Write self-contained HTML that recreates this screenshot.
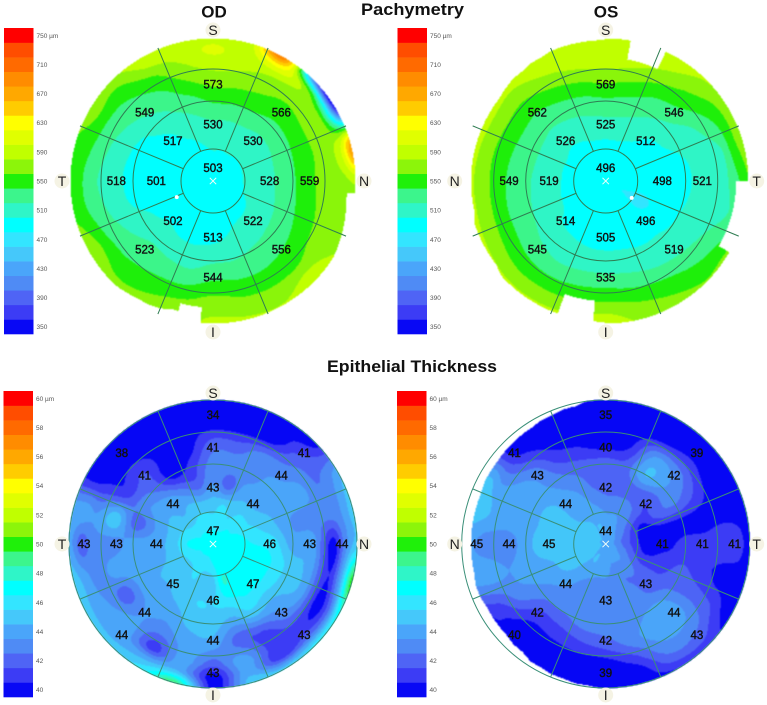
<!DOCTYPE html>
<html lang="en">
<head>
<meta charset="utf-8">
<title>Pachymetry and Epithelial Thickness Maps</title>
<style>
html,body{margin:0;padding:0;background:#fff;width:767px;height:705px;overflow:hidden}
svg{display:block;font-family:"Liberation Sans",Arial,sans-serif}
.title{font-weight:700;font-size:17px;fill:#111}
.tick{font-size:6.5px;fill:#555}
.val{font-size:11.5px;fill:#111;stroke:#111;stroke-width:.4;text-anchor:middle}
.dir{font-size:14px;fill:#222;text-anchor:middle}
</style>
</head>
<body>
<svg id="chart" width="767" height="705" viewBox="0 0 767 705" xmlns="http://www.w3.org/2000/svg">
  <text class="title" x="361" y="15" textLength="103" lengthAdjust="spacingAndGlyphs">Pachymetry</text>
  <text class="title" x="214" y="17.5" text-anchor="middle">OD</text>
  <text class="title" x="606" y="17.5" text-anchor="middle">OS</text>
  <text class="title" x="327" y="372" textLength="170" lengthAdjust="spacingAndGlyphs">Epithelial Thickness</text>
</svg>
<script>
/* ---------- shared scale data ---------- */
const pachyTicks = [750,710,670,630,590,550,510,470,430,390,350];
const epiTicks = [60,58,56,54,52,50,48,46,44,42,40];
const bandColors = ['#0808f5','#3c3cf5','#4f64f5','#4f8bf5','#4aa5fa','#45c8fa','#33e5ff','#00ffff','#2ff5c8','#3cf58c','#1ff00a','#8cf50a','#c0ff00','#e0ff00','#ffff00','#ffcc00','#ffa800','#ff8c00','#ff6a00','#ff4d00','#ff0000'];
/* sampling axes of the thickness fields */
const sampleAnglesDeg = [0,15,30,45,60,75,90,105,120,135,150,165,180,195,210,225,240,255,270,285,300,315,330,345];
const sampleRadiiMm = [0,0.625,1.25,1.875,2.5,3.125,3.75,4.125,4.5];
const ringRadiiMm = [1,2.5,3.5];
const spokeAnglesDeg = [22.5,67.5,112.5,157.5,202.5,247.5,292.5,337.5];

/* ---------- pachymetry OD ---------- */
const pachyOdField = [
[494,496,505,519,542,567,590,604,590],
[494,496,504,518,541,565,585,590,588],
[494,496,505,518,540,560,580,625,700],
[494,496,503,515,535,552,572,560,400],
[494,496,504,516,535,555,578,500,350],
[494,496,505,518,537,557,572,600,680],
[494,496,505,518,537,558,570,575,585],
[494,496,504,517,534,555,568,572,576],
[494,496,501,513,530,548,568,575,580],
[494,496,498,512,525,542,560,582,590],
[494,495,497,508,522,538,558,570,582],
[494,495,496,502,518,538,560,574,582],
[494,495,496,498,517,540,566,578,582],
[494,495,496,497,510,530,556,572,576],
[494,495,496,497,512,530,550,562,572],
[494,495,496,500,515,529,544,556,568],
[494,495,496,497,507,521,542,564,580],
[494,494,495,496,497,510,530,545,558],
[494,494,495,495,496,506,524,542,555],
[494,494,495,495,496,509,532,548,558],
[494,494,495,496,498,517,538,560,568],
[494,495,496,497,509,526,543,558,574],
[494,495,496,507,520,536,558,582,596],
[494,495,501,514,530,555,578,586,588]];
const pachyOdExtentMm = [4.45,4.45,4.45,4.45,4.45,4.45,4.45,4.45,4.45,4.45,4.45,4.45,4.45,4.45,4.45,4.45,4.45,4.45,4.45,4.2,4.25,4.3,4.35,4.4,4.45,4.45,4.45,4.45,4.45,4.45,4.45,4.45,4.45,4.45,4.45,4.45,4.45,3.95,3.95,4.2,4.3,4.35,4.35,4.4,4.45,4.45,4.45,4.45,4.45,4.45,4.45,4.45,4.45,4.45,4.45,4.45,4.45,4.45,4.45,4.45,4.45,4.45,4.45,4.45,4.45,4.45,4.45,4.45,4.45,4.45,4.45,4.45];
const pachyOdCenter = [503];
const pachyOdInner = [530,530,528,522,513,502,501,517];
const pachyOdMiddle = [573,566,559,556,544,523,518,549];
const pachyOdThinnest = [246,1.24];

/* ---------- pachymetry OS ---------- */
const pachyOsField = [
[490,495,499,516,536,563,589,595,600],
[490,495,499,515,532,556,583,592,595],
[490,494,497,510,525,544,570,585,592],
[490,493,496,500,516,536,556,570,582],
[490,492,495,498,505,517,538,555,580],
[490,491,494,497,499,509,519,552,570],
[490,491,494,496,498,506,516,536,560],
[490,488,484,497,499,507,516,525,545],
[490,479,472,492,500,512,528,545,565],
[490,487,484,496,502,516,538,550,562],
[490,491,495,496,503,520,547,560,572],
[490,491,495,497,505,526,552,568,578],
[490,491,495,497,506,530,558,579,590],
[490,491,495,497,507,529,555,572,588],
[490,492,495,498,509,526,553,570,585],
[490,493,497,500,513,530,553,570,585],
[490,493,497,505,519,536,560,575,590],
[490,494,497,508,522,538,563,579,590],
[490,494,498,509,524,540,564,580,592],
[490,494,498,510,526,542,565,582,592],
[490,494,498,510,526,544,567,584,595],
[490,494,496,508,524,543,566,582,594],
[490,494,497,510,528,550,577,592,600],
[490,495,499,514,531,557,585,594,600]];
const pachyOsExtentMm = [4.45,4.45,3.85,3.85,3.85,4.45,4.45,4.45,4.45,4.45,4.45,4.45,4.45,4.45,4.45,4.45,4.45,4.45,4.07,4.07,4.07,4.07,4.07,4.07,4.45,4.45,4.45,4.45,4.45,4.45,4.45,4.45,4.45,4.45,4.45,4.45,4.4,3.75,3.75,3.75,4.4,4.4,4.4,4.4,4.4,4.4,4.3,4.3,4.3,4.3,4.3,4.2,4.2,4.2,4.2,4.2,4.2,4.2,4.2,4.2,4.2,4.2,4.25,4.3,4.3,4.35,4.35,4.4,4.4,4.4,4.4,4.4];
const pachyOsCenter = [496];
const pachyOsInner = [525,512,498,496,505,514,519,526];
const pachyOsMiddle = [569,546,521,519,535,545,549,562];
const pachyOsThinnest = [123,0.97];

/* ---------- epithelium OD ---------- */
const epiOdField = [
[47.5,46,45,43.5,43,42,40,40,40],
[47.5,46,45.5,42,43,42,40,40,40],
[47.5,46,45,44,43,43,40,40,40],
[47.5,46.5,45.5,44,44,43,42,41,40],
[47.5,46.5,45.5,44.5,44,44,42.5,43,44],
[47.5,47,46,45,43.5,43,43,43.5,45],
[47.5,47,46.5,46,44,44,40,43,45],
[47.5,47,47,46.5,45,44,40.5,44,50],
[47.5,47,47,46.5,45,44,40,42,47],
[47.5,47,47,46.5,44.5,43,41,42,46],
[47.5,47,47,46.5,45,41.5,41,41,45],
[47.5,47,47.5,46,44,42,44,44,45],
[47.5,46.5,45,45.5,45,44,42,40,40],
[47.5,46,45,45.5,45,44,44,44.5,49],
[47.5,46,45.5,45,44,43,41,44,46],
[47.5,46,45,44.5,44,43.5,44,44,45],
[47.5,46,45,44.5,44,42,43.5,44,45],
[47.5,46.5,45,44,44,44,43,44,45],
[47.5,47,45,44,44,43,43,42,44],
[47.5,46.5,45,43.5,42,45,43.5,44,44],
[47.5,46,45,44,43,41,40.5,40,40],
[47.5,46,44.5,44,42,41.5,40,40,40],
[47.5,46,45,43,40,40,40,40,40],
[47.5,46,45,42,41,40,40,40,40]];
const epiOdExtentMm = new Array(72).fill(4.5);
const epiOdCenter = [47];
const epiOdInner = [43,44,46,47,46,45,44,44];
const epiOdMiddle = [41,44,43,43,44,44,43,41];
const epiOdOuter = [34,41,44,43,43,44,43,38];

/* ---------- epithelium OS ---------- */
const epiOsField = [
[44.3,44,43,42,42,40,40,40,40],
[44.3,44,43,42,42,40.5,40,40,40],
[44.3,43.5,43,42,44.5,43.5,40,40,40],
[44.3,43,42,41.5,43.5,43,40.5,40,40],
[44.3,42.5,40.5,42,42.5,41.5,40,40,40],
[44.3,42,40,40,40,40,40,40,40],
[44.3,42,40,40,41,41,41.5,41,40],
[44.3,42.5,40.5,41,41.5,41,40,40,40],
[44.3,43,41.5,41.5,42,42,41.5,40.5,40],
[44.3,43.5,42.5,42,43.5,44,43,42,41],
[44.3,43.5,42.5,43,43.5,44,43,42,40.5],
[44.3,43.5,43,43,43,43,41,40,40],
[44.3,44,43.3,43,43,42,40,40,40],
[44.3,44,43.3,43,43,41.5,40,40,40],
[44.3,44.5,43.5,43,42.5,41,40,40,40],
[44.3,44.5,44,43.5,42.5,41,40,40,40],
[44.3,45,45,44,43.5,43,41.5,41,40],
[44.3,45.4,45,44.5,44,43.5,44,44,44],
[44.3,45.4,45.4,45.4,44,43,43,43.5,44],
[44.3,45,45,45,44,44,44.5,45,45],
[44.3,45,45,45,44,44,43.5,44.5,44],
[44.3,45,44,44,43.5,43,41,40,40],
[44.3,44.5,44,43.5,42.5,41,40,40,40],
[44.3,44.5,43.5,42.5,42,40.5,40,40,40]];
const epiOsExtentMm = [4.5,4.5,4.5,4.5,4.5,4.5,4.5,4.5,4.5,4.5,4.5,4.5,4.5,4.5,4.5,4.5,4.5,4.5,4.5,4.5,4.5,4.5,4.5,4.5,4.5,4.5,4.5,4.5,4.5,4.5,4.5,4.5,4.5,4.5,4.5,4.5,4.5,4.45,4.45,4.4,4.4,4.35,4.35,4.25,4.25,4.2,4.2,4.2,4.2,4.25,4.25,4.2,4.2,4.2,4.2,4.2,4.2,4.2,4.2,4.25,4.25,4.25,4.27,4.27,4.3,4.3,4.35,4.35,4.4,4.4,4.5,4.5];
const epiOsCenter = [44];
const epiOsInner = [42,42,41,43,43,44,45,44];
const epiOsMiddle = [40,42,41,44,42,42,44,43];
const epiOsOuter = [35,39,41,43,39,40,45,41];

/* ---------- axis helpers ---------- */
const svgNS = 'http://www.w3.org/2000/svg';
const root = document.getElementById('chart');
const PX_PER_MM = 32;

function rScale(mm){ return mm * PX_PER_MM; }
function polarX(cx, deg, mm){ return cx + rScale(mm) * Math.sin(deg * Math.PI / 180); }
function polarY(cy, deg, mm){ return cy - rScale(mm) * Math.cos(deg * Math.PI / 180); }
function make(tag, parent){
  const el = document.createElementNS(svgNS, tag);
  parent.appendChild(el);
  return el;
}
function bandIndex(value, min, step){
  return Math.max(0, Math.min(20, Math.round((value - min) / step)));
}
function catmull(p0, p1, p2, p3, t){
  return 0.5 * (2 * p1 + (p2 - p0) * t + (2 * p0 - 5 * p1 + 4 * p2 - p3) * t * t + (3 * p1 - p0 - 3 * p2 + p3) * t * t * t);
}
function radialAt(row, k, t){
  const last = row.length - 1;
  const p0 = row[Math.max(0, k - 1)], p1 = row[k], p2 = row[k + 1], p3 = row[Math.min(last, k + 2)];
  return catmull(p0, p1, p2, p3, t);
}
function fieldAt(field, deg, mm){
  const n = field.length;
  const stepA = sampleAnglesDeg[1] - sampleAnglesDeg[0];
  const a = deg / stepA;
  const ai = Math.floor(a);
  const ta = a - ai;
  let k = 0;
  while (k < sampleRadiiMm.length - 2 && mm > sampleRadiiMm[k + 1]) k++;
  const tr = Math.min(1, (mm - sampleRadiiMm[k]) / (sampleRadiiMm[k + 1] - sampleRadiiMm[k]));
  const r0 = field[(ai - 1 + n) % n], r1 = field[ai % n], r2 = field[(ai + 1) % n], r3 = field[(ai + 2) % n];
  const v = catmull(radialAt(r0, k, tr), radialAt(r1, k, tr), radialAt(r2, k, tr), radialAt(r3, k, tr), ta);
  const lo = Math.min(r1[k], r1[k + 1], r2[k], r2[k + 1]);
  const hi = Math.max(r1[k], r1[k + 1], r2[k], r2[k + 1]);
  return Math.max(lo, Math.min(hi, v));
}
function extentAt(extent, deg){
  const n = extent.length;
  const p = (deg + 360 - 2.5) / 5;
  const i = Math.floor(p);
  const t = p - i;
  const a = extent[i % n], b = extent[(i + 1) % n];
  if (Math.abs(a - b) < 0.15) return a + (b - a) * t;
  return t < 0.5 ? a : b;
}

/* ---------- drawing ---------- */
function drawColorBar(g, x, width, top, height, ticks, min, step){
  const bandH = height / bandColors.length;
  bandColors.forEach(function(color, i){
    const r = make('rect', g);
    
    
    r.setAttribute('x', x);
    r.setAttribute('y', top + (bandColors.length - 1 - i) * bandH);
    r.setAttribute('width', width);
    r.setAttribute('height', bandH + 0.3);
    r.setAttribute('fill', color);
  });
  ticks.forEach(function(tick, i){
    const t = make('text', g);
    
    
    t.setAttribute('class', 'tick');
    t.setAttribute('x', x + width + 3);
    const idx = bandIndex(tick, min, step);
    t.setAttribute('y', top + (bandColors.length - 1 - idx + 0.5) * bandH + 2.5);
    t.textContent = i === 0 ? tick + ' \u00b5m' : String(tick);
  });
}

function drawMap(g, cx, cy, field, extent, min, step){
  const paths = bandColors.map(function(){ return []; });
  const R = 145;
  for (let y = -R; y < R; y++){
    let runStart = null, runBand = -1;
    for (let x = -R; x <= R; x++){
      const px = x + 0.5, py = y + 0.5;
      const rr = Math.sqrt(px * px + py * py) / PX_PER_MM;
      let deg = Math.atan2(px, -py) * 180 / Math.PI;
      if (deg < 0) deg += 360;
      const lim = extentAt(extent, deg);
      let b = -1;
      if (x < R && rr <= lim) b = bandIndex(fieldAt(field, deg, rr), min, step);
      if (b !== runBand){
        if (runBand >= 0) paths[runBand].push('M' + (cx + runStart) + ' ' + (cy + y) + 'h' + (x - runStart) + 'v1h' + (runStart - x) + 'z');
        runStart = x;
        runBand = b;
      }
    }
  }
  const mapGroup = make('g', g);
  
  
  mapGroup.setAttribute('style', 'filter:blur(0.6px)');
  paths.forEach(function(segments, i){
    if (!segments.length) return;
    const p = make('path', mapGroup);
    
    
    p.setAttribute('d', segments.join(''));
    p.setAttribute('fill', bandColors[i]);
    p.setAttribute('stroke', bandColors[i]);
    p.setAttribute('stroke-width', '0.3');
  });
}

function drawGrid(g, cx, cy, showOuter, lineColor){
  const rings = showOuter ? ringRadiiMm.concat([4.5]) : ringRadiiMm;
  rings.forEach(function(mm){
    const c = make('circle', g);
    
    
    c.setAttribute('cx', cx);
    c.setAttribute('cy', cy);
    c.setAttribute('r', rScale(mm));
    c.setAttribute('fill', 'none');
    c.setAttribute('stroke', lineColor);
    c.setAttribute('stroke-width', '1');
  });
  spokeAnglesDeg.forEach(function(deg){
    const l = make('line', g);
    
    
    l.setAttribute('x1', polarX(cx, deg, 1));
    l.setAttribute('y1', polarY(cy, deg, 1));
    l.setAttribute('x2', polarX(cx, deg, 4.5));
    l.setAttribute('y2', polarY(cy, deg, 4.5));
    l.setAttribute('stroke', lineColor);
    l.setAttribute('stroke-width', '1');
  });
}

function drawRingLabels(g, cx, cy, values, mm){
  values.forEach(function(v, i){
    const deg = i * 360 / values.length;
    const t = make('text', g);
    
    
    t.setAttribute('class', 'val');
    t.setAttribute('x', polarX(cx, deg, mm));
    t.setAttribute('y', polarY(cy, deg, mm) + 4);
    t.textContent = v;
  });
}

function drawDirections(g, cx, cy, letters){
  letters.forEach(function(letter, i){
    const deg = i * 90;
    const x = cx + 151 * Math.sin(deg * Math.PI / 180);
    const y = cy - 151 * Math.cos(deg * Math.PI / 180);
    const b = make('circle', g);
    
    
    b.setAttribute('cx', x);
    b.setAttribute('cy', y);
    b.setAttribute('r', 7.5);
    b.setAttribute('fill', '#f5f3e4');
    const t = make('text', g);
    
    
    t.setAttribute('class', 'dir');
    t.setAttribute('x', x);
    t.setAttribute('y', y + 5);
    t.textContent = letter;
  });
}

function drawMarkers(g, cx, cy, thinnest){
  const s = 3.2;
  const x = make('path', g);
  
  
  x.setAttribute('d', 'M' + (cx - s) + ' ' + (cy - s) + 'L' + (cx + s) + ' ' + (cy + s) + 'M' + (cx + s) + ' ' + (cy - s) + 'L' + (cx - s) + ' ' + (cy + s));
  x.setAttribute('stroke', '#f4fff8');
  x.setAttribute('stroke-width', '1');
  x.setAttribute('fill', 'none');
  if (thinnest){
    const d = make('circle', g);
    
    
    d.setAttribute('cx', polarX(cx, thinnest[0], thinnest[1]));
    d.setAttribute('cy', polarY(cy, thinnest[0], thinnest[1]));
    d.setAttribute('r', 2);
    d.setAttribute('fill', '#ffffff');
  }
}

function drawPanel(name, cx, cy, barX, barTop, field, extent, center, inner, middle, outer, thinnest, letters, ticks, min, step, lineColor){
  const g = make('g', root);
  
  
  drawColorBar(g, barX, 29.5, barTop, 306, ticks, min, step);
  drawMap(g, cx, cy, field, extent, min, step);
  drawGrid(g, cx, cy, outer !== null, lineColor);
  drawRingLabels(g, cx, cy - 13, center, 0);
  drawRingLabels(g, cx, cy, inner, 1.77);
  drawRingLabels(g, cx, cy, middle, 3.02);
  if (outer) drawRingLabels(g, cx, cy, outer, 4.03);
  drawDirections(g, cx, cy, letters);
  drawMarkers(g, cx, cy, thinnest);
}

drawPanel('pachymetry-od-panel', 213, 181, 4, 28, pachyOdField, pachyOdExtentMm, pachyOdCenter, pachyOdInner, pachyOdMiddle, null, pachyOdThinnest, ['S','N','I','T'], pachyTicks, 350, 20, '#2f7d52');
drawPanel('pachymetry-os-panel', 605.7, 181, 397.5, 28, pachyOsField, pachyOsExtentMm, pachyOsCenter, pachyOsInner, pachyOsMiddle, null, pachyOsThinnest, ['S','T','I','N'], pachyTicks, 350, 20, '#2f7d52');
drawPanel('epithelium-od-panel', 213, 544, 3.5, 391, epiOdField, epiOdExtentMm, epiOdCenter, epiOdInner, epiOdMiddle, epiOdOuter, null, ['S','N','I','T'], epiTicks, 40, 1, '#3a8f78');
drawPanel('epithelium-os-panel', 605.7, 544, 397, 391, epiOsField, epiOsExtentMm, epiOsCenter, epiOsInner, epiOsMiddle, epiOsOuter, null, ['S','T','I','N'], epiTicks, 40, 1, '#3a8f78');
</script>
</body>
</html>
